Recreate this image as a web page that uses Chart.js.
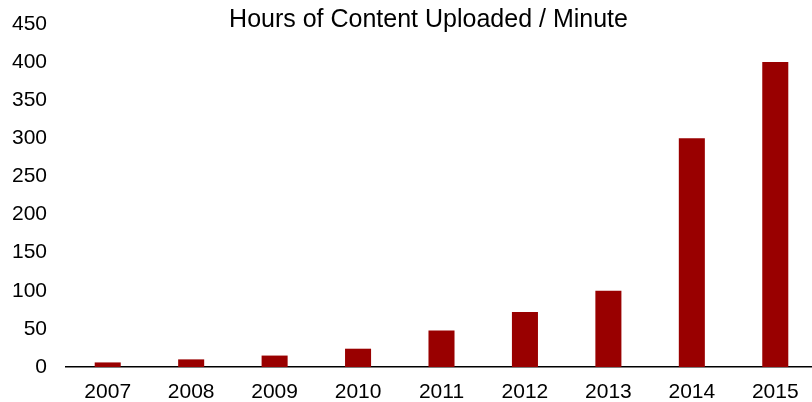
<!DOCTYPE html>
<html>
<head>
<meta charset="utf-8">
<script src="https://cdn.jsdelivr.net/npm/chart.js@4.4.1/dist/chart.umd.min.js"></script>
<style>
	html, body { margin: 0; padding: 0; background: #fff; overflow: hidden; }
	#wrap { position: relative; width: 812px; height: 402px; overflow: hidden; }
	#title {
		position: absolute;
		left: 428.5px;
		top: 6px;
		transform: translateX(-50%);
		font: 25px "Liberation Sans", Arial, sans-serif;
		line-height: 24px;
		color: #000;
		white-space: nowrap;
	}
	canvas { position: absolute; left: 0; top: 0; }
</style>
</head>
<body>
<div id="wrap">
	<canvas id="chart" width="817" height="402"></canvas>
	<div id="title">Hours of Content Uploaded / Minute</div>
</div>
<script>
const years = ["2007", "2008", "2009", "2010", "2011", "2012", "2013", "2014", "2015"];
const hoursPerMinute = [6, 10, 15, 24, 48, 72, 100, 300, 400];
const yMin = 0;
const yMax = 450;
const yStep = 50;

const ctx = document.getElementById("chart").getContext("2d");

new Chart(ctx, {
	type: "bar",
	data: {
		labels: years,
		datasets: [
			{
				label: "Hours of Content Uploaded / Minute",
				data: hoursPerMinute,
				backgroundColor: "#990000",
				borderWidth: 0,
				barPercentage: 0.312,
				categoryPercentage: 1,
			},
		],
	},
	options: {
		responsive: false,
		devicePixelRatio: 1,
		animation: false,
		layout: { padding: { top: 24, left: 0, right: 0, bottom: 0 } },
		plugins: {
			legend: { display: false },
			title: { display: false },
			tooltip: { enabled: false },
		},
		scales: {
			x: {
				grid: { display: false, drawTicks: false },
				border: { display: true, color: "#000", width: 1.5 },
				ticks: {
					color: "#000",
					padding: 13,
					font: { family: "'Liberation Sans', Arial, sans-serif", size: 21 },
					maxRotation: 0,
				},
				afterFit: (scale) => { scale.height = 35; },
			},
			y: {
				min: yMin,
				max: yMax,
				grid: { display: false, drawTicks: false },
				border: { display: false },
				ticks: {
					stepSize: yStep,
					color: "#000",
					padding: 19,
					font: { family: "'Liberation Sans', Arial, sans-serif", size: 21 },
				},
				afterFit: (scale) => {
					scale.width = 66;
					scale.paddingTop = 0;
					scale.paddingBottom = 0;
				},
			},
		},
	},
});
</script>
</body>
</html>
